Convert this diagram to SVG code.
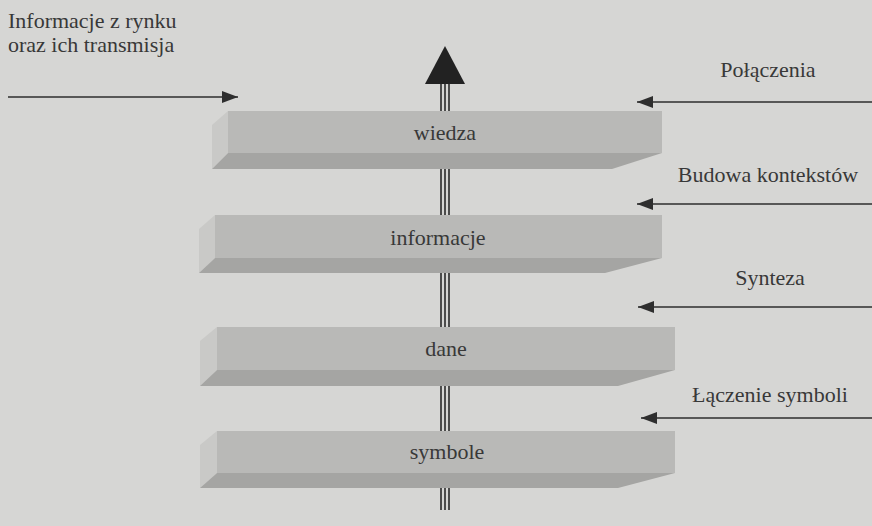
<svg xmlns="http://www.w3.org/2000/svg" width="872" height="526" viewBox="0 0 872 526">
<defs>
<style>
.bg{fill:#d6d6d4}
.front{fill:#b9b9b7}
.bottom{fill:#a5a5a3}
.side{fill:#c9c9c7}
.lbl{font-family:'Liberation Serif','DejaVu Serif',serif;font-size:22px;fill:#383838}
.ln{stroke:#2e2e2e;stroke-width:1.5;fill:none}
.shaft{stroke:#2a2a2a;stroke-width:1.6}
</style>
<marker id="ah" viewBox="0 0 16 12" refX="16" refY="6" markerWidth="16" markerHeight="12" markerUnits="userSpaceOnUse" orient="auto">
<path d="M0,0 L16,6 L0,12 Z" fill="#2e2e2e"/>
</marker>
</defs>
<rect class="bg" x="0" y="0" width="872" height="526"/>
<g id="connectors">
<g id="shaft">
<line class="shaft" x1="441" y1="82" x2="441" y2="510"/>
<line class="shaft" x1="445" y1="82" x2="445" y2="510"/>
<line class="shaft" x1="449" y1="82" x2="449" y2="510"/>
<polygon points="445,46 425,84 465,84" fill="#222"/>
</g>
<line class="ln" x1="8" y1="97" x2="238" y2="97" marker-end="url(#ah)"/>
<line class="ln" x1="872" y1="102" x2="637" y2="102" marker-end="url(#ah)"/>
<line class="ln" x1="872" y1="204" x2="637" y2="204" marker-end="url(#ah)"/>
<line class="ln" x1="872" y1="307" x2="638" y2="307" marker-end="url(#ah)"/>
<line class="ln" x1="872" y1="418" x2="641" y2="418" marker-end="url(#ah)"/>
</g>
<g id="wiedza">
<polygon class="side" points="212,125 228,111 228,153 212,169"/>
<rect class="front" x="228" y="111" width="434" height="42"/>
<polygon class="bottom" points="228,153 662,153 612,169 212,169"/>
<text class="lbl" x="445" y="140" text-anchor="middle">wiedza</text>
</g>
<g id="informacje">
<polygon class="side" points="199,229 215,215 215,258 199,273"/>
<rect class="front" x="215" y="215" width="447" height="43"/>
<polygon class="bottom" points="215,258 662,258 605,273 199,273"/>
<text class="lbl" x="438" y="245" text-anchor="middle">informacje</text>
</g>
<g id="dane">
<polygon class="side" points="200,341 217,327 217,370 200,386"/>
<rect class="front" x="217" y="327" width="458" height="43"/>
<polygon class="bottom" points="217,370 675,370 618,386 200,386"/>
<text class="lbl" x="446" y="356" text-anchor="middle">dane</text>
</g>
<g id="symbole">
<polygon class="side" points="200,445 217,431 217,473 200,488"/>
<rect class="front" x="217" y="431" width="458" height="42"/>
<polygon class="bottom" points="217,473 675,473 618,488 200,488"/>
<text class="lbl" x="447" y="459" text-anchor="middle">symbole</text>
</g>
<g id="labels">
<text class="lbl" x="8" y="28">Informacje z rynku</text>
<text class="lbl" x="8" y="52">oraz ich transmisja</text>
<text class="lbl" x="768" y="77" text-anchor="middle">Połączenia</text>
<text class="lbl" x="768" y="182" text-anchor="middle">Budowa kontekstów</text>
<text class="lbl" x="770" y="285" text-anchor="middle">Synteza</text>
<text class="lbl" x="770" y="402" text-anchor="middle">Łączenie symboli</text>
</g>
</svg>
